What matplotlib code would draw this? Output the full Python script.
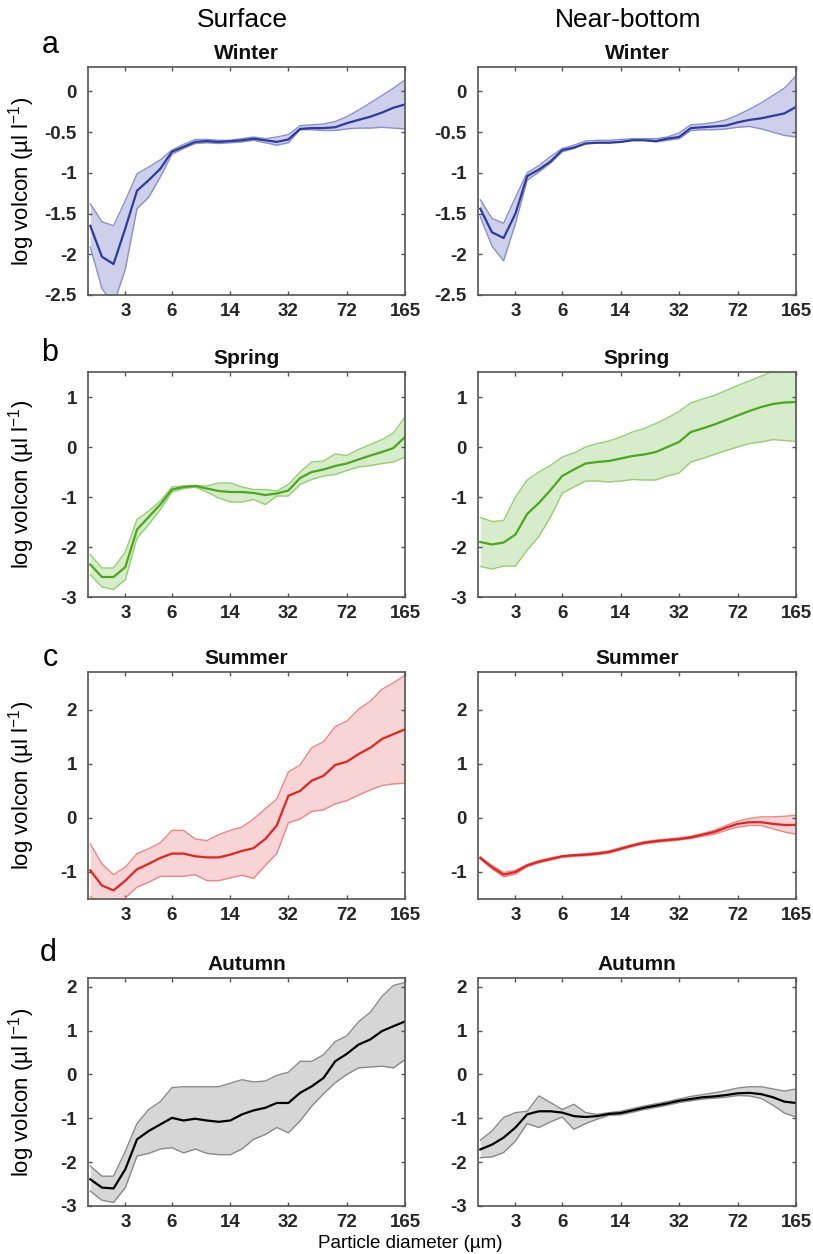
import matplotlib
matplotlib.use("Agg")
import matplotlib.pyplot as plt

plt.rcParams['font.family'] = ['Liberation Sans', 'DejaVu Sans']
plt.rcParams['axes.unicode_minus'] = False
plt.rcParams['mathtext.fontset'] = 'custom'
plt.rcParams['mathtext.rm'] = 'Liberation Sans'
plt.rcParams['mathtext.it'] = 'Liberation Sans'

# LISST size bins 3..30 (midpoint diameter, um)
diam = [1.89, 2.23, 2.63, 3.11, 3.67, 4.33, 5.11, 6.03, 7.11, 8.39, 9.90, 11.7, 13.8, 16.3,
        19.2, 22.7, 26.7, 31.5, 37.2, 43.9, 51.9, 61.2, 72.2, 85.2, 101, 119, 140, 165]
tick_pos = [3.11, 6.03, 13.8, 31.5, 72.2, 165]
tick_lab = ['3', '6', '14', '32', '72', '165']

# winter
win_surf_mean = [-1.65, -2.03, -2.12, -1.68, -1.22, -1.09, -0.95, -0.74, -0.68, -0.62, -0.61, -0.62, -0.61, -0.60,
                 -0.58, -0.60, -0.62, -0.59, -0.46, -0.45, -0.45, -0.44, -0.39, -0.35, -0.31, -0.26, -0.20, -0.16]
win_surf_hi = [-1.38, -1.60, -1.65, -1.34, -1.01, -0.93, -0.84, -0.72, -0.65, -0.59, -0.59, -0.60, -0.60, -0.58,
               -0.56, -0.58, -0.56, -0.53, -0.42, -0.41, -0.40, -0.37, -0.31, -0.23, -0.14, -0.05, 0.04, 0.14]
win_surf_lo = [-1.91, -2.42, -2.62, -2.18, -1.44, -1.30, -1.05, -0.77, -0.70, -0.64, -0.63, -0.64, -0.63, -0.62,
               -0.60, -0.63, -0.66, -0.63, -0.47, -0.47, -0.48, -0.48, -0.46, -0.45, -0.45, -0.44, -0.45, -0.46]
win_bot_mean = [-1.44, -1.73, -1.80, -1.50, -1.04, -0.96, -0.86, -0.72, -0.69, -0.64, -0.63, -0.63, -0.62, -0.60,
                -0.60, -0.61, -0.58, -0.56, -0.45, -0.44, -0.43, -0.42, -0.38, -0.35, -0.33, -0.30, -0.27, -0.19]
win_bot_hi = [-1.33, -1.56, -1.62, -1.30, -1.00, -0.91, -0.80, -0.70, -0.66, -0.61, -0.60, -0.60, -0.59, -0.58,
              -0.58, -0.58, -0.56, -0.51, -0.41, -0.40, -0.38, -0.35, -0.29, -0.22, -0.14, -0.05, 0.04, 0.19]
win_bot_lo = [-1.54, -1.90, -2.08, -1.62, -1.09, -0.99, -0.88, -0.74, -0.70, -0.64, -0.63, -0.63, -0.62, -0.60,
              -0.60, -0.62, -0.60, -0.58, -0.48, -0.47, -0.47, -0.46, -0.44, -0.43, -0.46, -0.50, -0.54, -0.56]

# spring
spr_surf_mean = [-2.35, -2.60, -2.60, -2.40, -1.65, -1.40, -1.15, -0.85, -0.80, -0.78, -0.83, -0.88, -0.90, -0.90,
                 -0.92, -0.96, -0.93, -0.87, -0.62, -0.50, -0.45, -0.38, -0.33, -0.25, -0.17, -0.10, -0.02, 0.20]
spr_surf_hi = [-2.15, -2.42, -2.42, -2.10, -1.45, -1.28, -1.08, -0.80, -0.78, -0.77, -0.78, -0.72, -0.72, -0.80,
               -0.85, -0.85, -0.88, -0.75, -0.50, -0.30, -0.28, -0.14, -0.17, -0.05, 0.05, 0.15, 0.28, 0.60]
spr_surf_lo = [-2.55, -2.80, -2.85, -2.65, -1.82, -1.55, -1.25, -0.90, -0.83, -0.80, -0.90, -1.02, -1.10, -1.10,
               -1.05, -1.15, -0.98, -0.98, -0.75, -0.65, -0.58, -0.55, -0.47, -0.40, -0.37, -0.33, -0.30, -0.20]
spr_bot_mean = [-1.90, -1.95, -1.91, -1.75, -1.34, -1.12, -0.86, -0.58, -0.45, -0.33, -0.30, -0.28, -0.23, -0.18,
                -0.15, -0.10, 0.00, 0.10, 0.30, 0.37, 0.45, 0.54, 0.63, 0.72, 0.80, 0.86, 0.89, 0.90]
spr_bot_hi = [-1.41, -1.49, -1.47, -1.00, -0.66, -0.50, -0.37, -0.20, -0.12, 0.00, 0.07, 0.12, 0.20, 0.30,
              0.37, 0.47, 0.58, 0.71, 0.88, 0.96, 1.03, 1.13, 1.23, 1.32, 1.42, 1.51, 1.60, 1.66]
spr_bot_lo = [-2.39, -2.44, -2.38, -2.38, -2.06, -1.79, -1.40, -0.92, -0.80, -0.68, -0.68, -0.70, -0.68, -0.65,
              -0.66, -0.66, -0.58, -0.52, -0.30, -0.23, -0.15, -0.07, 0.00, 0.07, 0.10, 0.15, 0.13, 0.11]

# summer
sum_surf_mean = [-0.97, -1.25, -1.34, -1.16, -0.95, -0.85, -0.74, -0.66, -0.66, -0.71, -0.73, -0.73, -0.68, -0.61,
                 -0.56, -0.39, -0.14, 0.41, 0.50, 0.69, 0.78, 0.98, 1.04, 1.18, 1.30, 1.46, 1.55, 1.64]
sum_surf_hi = [-0.48, -0.85, -1.05, -0.91, -0.66, -0.57, -0.46, -0.23, -0.23, -0.39, -0.42, -0.31, -0.23, -0.17,
               -0.02, 0.17, 0.35, 0.85, 0.98, 1.30, 1.41, 1.69, 1.79, 2.01, 2.16, 2.38, 2.50, 2.64]
sum_surf_lo = [-1.45, -1.65, -1.72, -1.48, -1.28, -1.19, -1.08, -1.08, -1.08, -1.05, -1.16, -1.16, -1.11, -1.06,
               -1.12, -0.88, -0.66, -0.09, -0.02, 0.12, 0.15, 0.26, 0.32, 0.42, 0.52, 0.60, 0.63, 0.64]
sum_bot_mean = [-0.74, -0.91, -1.05, -1.00, -0.88, -0.81, -0.76, -0.71, -0.69, -0.68, -0.66, -0.63, -0.57, -0.51,
                -0.46, -0.43, -0.41, -0.39, -0.36, -0.31, -0.26, -0.18, -0.11, -0.08, -0.08, -0.11, -0.13, -0.13]
sum_bot_hi = [-0.72, -0.88, -1.01, -0.97, -0.86, -0.79, -0.74, -0.70, -0.68, -0.66, -0.64, -0.61, -0.55, -0.49,
              -0.44, -0.41, -0.39, -0.37, -0.34, -0.29, -0.23, -0.14, -0.06, -0.01, 0.02, 0.02, 0.03, 0.05]
sum_bot_lo = [-0.76, -0.94, -1.09, -1.04, -0.90, -0.83, -0.78, -0.73, -0.71, -0.70, -0.68, -0.65, -0.59, -0.53,
              -0.48, -0.45, -0.43, -0.41, -0.38, -0.34, -0.30, -0.23, -0.17, -0.14, -0.14, -0.20, -0.26, -0.30]

# autumn
aut_surf_mean = [-2.39, -2.58, -2.60, -2.16, -1.48, -1.29, -1.14, -0.99, -1.05, -1.01, -1.05, -1.08, -1.05, -0.91,
                 -0.82, -0.76, -0.65, -0.65, -0.42, -0.27, -0.08, 0.30, 0.47, 0.68, 0.80, 0.99, 1.10, 1.21]
aut_surf_hi = [-2.09, -2.32, -2.32, -1.75, -1.12, -0.80, -0.62, -0.30, -0.28, -0.28, -0.28, -0.28, -0.20, -0.12,
               -0.17, -0.15, -0.02, 0.05, 0.30, 0.30, 0.45, 0.75, 0.88, 1.20, 1.42, 1.78, 2.03, 2.10]
aut_surf_lo = [-2.66, -2.87, -2.92, -2.58, -1.86, -1.80, -1.70, -1.67, -1.79, -1.70, -1.80, -1.83, -1.83, -1.70,
               -1.48, -1.37, -1.21, -1.33, -1.06, -0.72, -0.44, -0.19, 0.00, 0.15, 0.17, 0.19, 0.15, 0.34]
aut_bot_mean = [-1.71, -1.60, -1.44, -1.21, -0.91, -0.84, -0.84, -0.87, -0.95, -0.97, -0.95, -0.90, -0.88, -0.82,
                -0.76, -0.71, -0.66, -0.60, -0.56, -0.52, -0.50, -0.47, -0.43, -0.42, -0.45, -0.52, -0.62, -0.65]
aut_bot_hi = [-1.50, -1.29, -0.98, -0.87, -0.84, -0.49, -0.64, -0.80, -0.68, -0.87, -0.91, -0.87, -0.84, -0.78,
              -0.72, -0.67, -0.62, -0.56, -0.50, -0.46, -0.42, -0.37, -0.31, -0.28, -0.28, -0.33, -0.38, -0.33]
aut_bot_lo = [-1.90, -1.88, -1.78, -1.52, -1.12, -1.21, -1.08, -0.97, -1.25, -1.12, -1.02, -0.93, -0.92, -0.86,
              -0.80, -0.75, -0.70, -0.64, -0.60, -0.56, -0.54, -0.52, -0.48, -0.49, -0.55, -0.70, -0.88, -0.97]

seasons = ['Winter', 'Spring', 'Summer', 'Autumn']
letters = ['a', 'b', 'c', 'd']
ylims = [(-2.5, 0.3), (-3, 1.5), (-1.5, 2.7), (-3, 2.2)]
yticks = [[-2.5, -2, -1.5, -1, -0.5, 0], [-3, -2, -1, 0, 1], [-1, 0, 1, 2], [-3, -2, -1, 0, 1, 2]]
# (line, fill, edge)
colors = [('#2b3c9e', '#cdcfeb', '#8a8fd4'),
          ('#4aa81c', '#d6ecca', '#94d071'),
          ('#e6221f', '#f7d4d6', '#f08585'),
          ('#000000', '#d6d6d6', '#8a8a8a')]
data = [[(win_surf_mean, win_surf_lo, win_surf_hi), (win_bot_mean, win_bot_lo, win_bot_hi)],
        [(spr_surf_mean, spr_surf_lo, spr_surf_hi), (spr_bot_mean, spr_bot_lo, spr_bot_hi)],
        [(sum_surf_mean, sum_surf_lo, sum_surf_hi), (sum_bot_mean, sum_bot_lo, sum_bot_hi)],
        [(aut_surf_mean, aut_surf_lo, aut_surf_hi), (aut_bot_mean, aut_bot_lo, aut_bot_hi)]]

W, H = 813, 1254
fig = plt.figure(figsize=(W / 100, H / 100), dpi=100)

col_x = [(88, 405), (478, 796)]
row_y = [(67, 295), (372, 597), (672, 899), (978, 1206)]
axcol = '#555555'

for r in range(4):
    for c in range(2):
        x0, x1 = col_x[c]
        y0, y1 = row_y[r]
        ax = fig.add_axes([x0 / W, 1 - y1 / H, (x1 - x0) / W, (y1 - y0) / H])
        mean, lo, hi = data[r][c]
        line_c, fill_c, edge_c = colors[r]
        ax.fill_between(diam, lo, hi, color=fill_c, lw=0)
        ax.plot(diam, hi, color=edge_c, lw=1.0)
        ax.plot(diam, lo, color=edge_c, lw=1.0)
        ax.plot(diam, mean, color=line_c, lw=1.6)
        ax.set_xscale('log')
        ax.set_xlim(1.83, 165)
        ax.set_ylim(*ylims[r])
        ax.set_xticks(tick_pos)
        ax.set_xticklabels(tick_lab)
        ax.minorticks_off()
        ax.set_yticks(yticks[r])
        ax.set_yticklabels(['%g' % v for v in yticks[r]])
        ax.tick_params(direction='in', top=True, right=True, length=3, width=1.0,
                       color=axcol, labelcolor='#262626', labelsize=13.5)
        ax.tick_params(axis='x', pad=6)
        ax.tick_params(axis='y', pad=8)
        for lab in ax.get_xticklabels() + ax.get_yticklabels():
            lab.set_fontweight('bold')
        for s in ax.spines.values():
            s.set_color(axcol)
            s.set_linewidth(1.2)
        ax.set_title(seasons[r], fontsize=15, fontweight='bold', pad=6, color='#111111')
        if c == 0:
            ax.set_ylabel('log volcon (µl l$^{-1}$)', fontsize=16)
            ax.yaxis.set_label_coords(-(88 - 37) / (x1 - x0), 0.5)

fig.text(242 / W, 1 - 20 / H, 'Surface', fontsize=19, ha='center', va='center')
fig.text(628 / W, 1 - 20 / H, 'Near-bottom', fontsize=19, ha='center', va='center')
for r, (lx, ly) in enumerate([(50, 45), (50, 353), (50, 658), (48, 953)]):
    fig.text(lx / W, 1 - ly / H, letters[r], fontsize=22, ha='center', va='center')
fig.text(410 / W, 1 - 1243 / H, 'Particle diameter (µm)', fontsize=13.5, ha='center', va='center')

fig.savefig('out.png', dpi=100)
